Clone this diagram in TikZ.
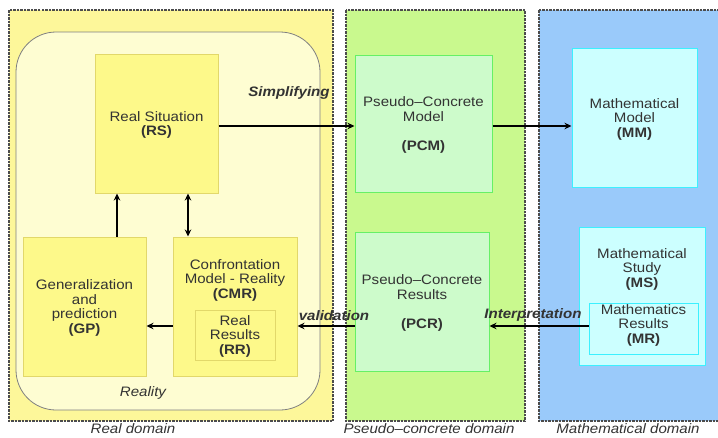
\documentclass[tikz,border=0pt]{standalone}
\usepackage{fontspec}
\setmainfont{Liberation Sans}[FakeStretch=1.1]
\usetikzlibrary{arrows.meta}
\definecolor{realdom}{HTML}{FDF79A}
\definecolor{realin}{HTML}{FEFDD2}
\definecolor{ybox}{HTML}{FDF98A}
\definecolor{yedge}{HTML}{E2D86A}
\definecolor{greendom}{HTML}{C9F98E}
\definecolor{gbox}{HTML}{CDFBCB}
\definecolor{gedge}{HTML}{66F066}
\definecolor{bluedom}{HTML}{9ACAFA}
\definecolor{bbox}{HTML}{CCFFFF}
\definecolor{bedge}{HTML}{3CF0FF}
\definecolor{ink}{HTML}{333333}
\tikzset{
  dombox/.style={draw=black!70, line width=1.2pt, dash pattern=on 2.5pt off 1pt},
  ybx/.style={draw=yedge, fill=ybox, line width=1pt, inner sep=0},
  gbx/.style={draw=gedge, fill=gbox, line width=1pt, inner sep=0},
  bbx/.style={draw=bedge, fill=bbox, line width=1pt, inner sep=0},
  txt/.style={align=center, text=ink, font=\fontsize{13.7}{14.5}\selectfont},
  lbl/.style={text=ink, font=\fontsize{13.7}{14.5}\selectfont\bfseries\itshape, inner sep=1pt},
  dlbl/.style={text=ink, font=\fontsize{13.7}{14.5}\selectfont\itshape, inner sep=0pt},
  arr/.style={-{Stealth[length=7pt,width=6.5pt]}, line width=1.6pt, black},
  darr/.style={{Stealth[length=7pt,width=6.5pt]}-{Stealth[length=7pt,width=6.5pt]}, line width=1.6pt, black}
}
\begin{document}
\begin{tikzpicture}[x=1pt,y=-1pt]
\useasboundingbox (0,0) rectangle (718,437);
\fill[white] (0,0) rectangle (718,437);
% domains
\draw[dombox, fill=realdom] (9,10) rectangle (333,421);
\draw[dombox, fill=greendom] (346,10) rectangle (525,421);
\draw[dombox, fill=bluedom] (539,10) rectangle (724,421);
% reality
\draw[draw=black!50, fill=realin, line width=0.8pt, rounded corners=40pt] (16,32) rectangle (320,410);
% boxes
\node[ybx, minimum width=123pt, minimum height=139pt] (RS) at (156.5,123.5) {};
\node[txt] at (156.5,125) {Real Situation\\\textbf{(RS)}};
\node[gbx, minimum width=137pt, minimum height=137pt] (PCM) at (423.5,123.5) {};
\node[txt] at (423.5,125) {Pseudo–Concrete\\Model\\[14.5pt]\textbf{(PCM)}};
\node[bbx, minimum width=125pt, minimum height=139pt] (MM) at (634.5,117.5) {};
\node[txt] at (634.5,119) {Mathematical\\Model\\\textbf{(MM)}};
\node[ybx, minimum width=123pt, minimum height=139pt] (GP) at (84.5,306.5) {};
\node[txt] at (84.5,308) {Generalization\\and\\prediction\\\textbf{(GP)}};
\node[ybx, minimum width=124pt, minimum height=139pt] (CMR) at (235,306.5) {};
\node[txt] at (235,280) {Confrontation\\Model - Reality\\\textbf{(CMR)}};
\node[ybx, minimum width=80pt, minimum height=50pt] (RR) at (235,335) {};
\node[txt] at (235,336) {Real\\Results\\\textbf{(RR)}};
\node[gbx, minimum width=134pt, minimum height=139pt] (PCR) at (422,301.5) {};
\node[txt] at (422,303) {Pseudo–Concrete\\Results\\[14.5pt]\textbf{(PCR)}};
\node[bbx, minimum width=126pt, minimum height=138pt] (MS) at (642,296) {};
\node[txt] at (642,269) {Mathematical\\Study\\\textbf{(MS)}};
\node[bbx, minimum width=109pt, minimum height=51pt] (MR) at (643.5,328.5) {};
\node[txt] at (643.5,325) {Mathematics\\Results\\\textbf{(MR)}};
% coordinates
\coordinate (rowA) at (0,126);
\coordinate (rowB) at (0,326);
\coordinate (colA) at (117,0);
\coordinate (colB) at (188,0);
% arrows
\draw[arr] (RS.east |- rowA) -- (PCM.west |- rowA);
\draw[arr] (PCM.east |- rowA) -- (MM.west |- rowA);
\draw[arr] (MR.west |- rowB) -- (PCR.east |- rowB);
\draw[arr] (PCR.west |- rowB) -- (CMR.east |- rowB);
\draw[arr] (CMR.west |- rowB) -- (GP.east |- rowB);
\draw[arr] (GP.north -| colA) -- (RS.south -| colA);
\draw[darr] (RS.south -| colB) -- (CMR.north -| colB);
% labels
\node[lbl] (simp) at (289,93) {Simplifying};
\node[lbl] (valid) at (334,316) {validation};
\node[lbl] (interp) at (533,315) {Interpretation};
\node[dlbl] (reality) at (143,393) {Reality};
\node[dlbl] (d1) at (133,429) {Real domain};
\node[dlbl] (d2) at (429,429) {Pseudo–concrete domain};
\node[dlbl] (d3) at (628,429) {Mathematical domain};
\end{tikzpicture}
\end{document}
